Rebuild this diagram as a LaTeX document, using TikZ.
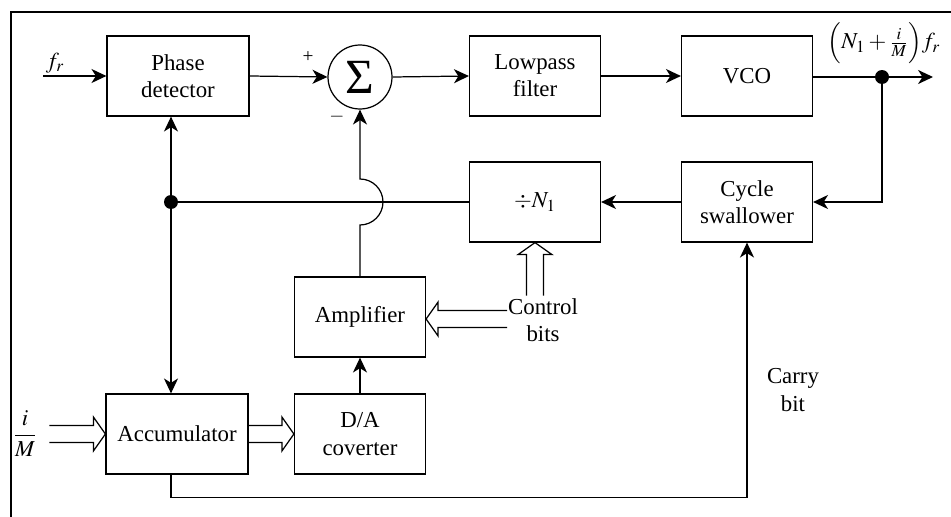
\documentclass[tikz,border=0pt]{standalone}
\usepackage{mathptmx}
\usepackage{fontspec}
\setmainfont{Liberation Serif}
\usetikzlibrary{arrows.meta,calc}

\tikzset{
  blk/.style={draw, align=center, minimum width=2.62cm, minimum height=1.6cm, inner sep=0pt},
  wideblk/.style={blk, minimum width=2.84cm},
  junction/.style={circle, fill, inner sep=0pt, minimum size=0.28cm},
  sign/.style={font=\fontsize{11}{11}\selectfont, inner sep=0pt},
  % hollow bus arrow pointing along +x, tip at the origin, tail #1 units back
  busarrow/.pic={
    \draw (-#1,-8.5) -- (-12,-8.5) -- (-12,-17) -- (0,0) -- (-12,17) -- (-12,8.5) -- (-#1,8.5);
  }
}

\begin{document}
\begin{tikzpicture}[x=0.02cm, y=-0.02cm, line width=0.7pt,
  font=\fontsize{13}{15.5}\selectfont,
  >={Stealth[length=8.5pt, width=8pt, inset=2.5pt]}]
\useasboundingbox (0,0) rectangle (951,517);

% frame
\draw[line width=0.9pt] (951,12) -- (11,12) -- (11,517);

% blocks
\node[wideblk] (pd)  at (178,76)  {Phase\\detector};
\node[draw, circle, minimum size=1.28cm, inner sep=0pt,
      font=\fontsize{28}{28}\selectfont] (sum) at (360,77) {Σ};
\node[blk] (lpf) at (535,76)  {Lowpass\\filter};
\node[blk] (vco) at (747,76)  {VCO};
\node[blk] (cs)  at (747,202) {Cycle\\swallower};
\node[blk] (div) at (535,202) {$\div N_1$};
\node[blk] (amp) at (360,317) {Amplifier};
\node[wideblk] (acc) at (177,434) {Accumulator};
\node[blk] (da)  at (360,434) {D/A\\coverter};
\node[align=center, inner sep=1pt] (ctrl)  at (543,320) {Control\\bits};
\node[align=center, inner sep=1pt] (carry) at (793,390) {Carry\\bit};

% signal labels
\node at (55,63) {$f_r$};
\node[inner sep=0pt] at (884,43) {$\Bigl(N_1+\frac{i}{M}\Bigr)f_r$};
\node at (25,434) {$\displaystyle\frac{i}{M}$};
\node[sign] at (308,57) {+};
\node[sign] at (337,117) {$-$};

% points
\coordinate (fin)  at (43,76);
\coordinate (tap)  at (882,77);
\coordinate (fout) at (933,77);
\coordinate (j)    at (171,202);

% forward path
\draw[->] (fin) -- (pd.west);
\draw[->] (pd.east) -- (sum.west);
\draw[->] (sum.east) -- (lpf.west);
\draw[->] (lpf.east) -- (vco.west);
\draw[->] (vco.east |- tap) -- (fout);

% feedback path
\draw[->] (tap) |- (cs.east);
\draw[->] (cs.west) -- (div.east);
\draw (div.west) -- (j);
\draw[->] (j) -- (j |- pd.south);
\draw[->] (j) -- (j |- acc.north);
\node[junction] at (tap) {};
\node[junction] at (j) {};

% carry bit
\draw[->] (j |- acc.south) -- ++(0,23) -| (cs.south);

% amplifier output, hopping over the feedback line
\coordinate (hop) at (amp.north |- j);
\draw[->] (amp.north) -- ($(hop)+(0,23)$) arc[start angle=90, end angle=-90, radius=23] -- (sum.south);
\draw[->] (da.north) -- (amp.south);

% buses
\pic at (acc.west) {busarrow=56};
\pic at (da.west) {busarrow=46};
\pic[rotate=90] at (div.south) {busarrow=53};
\pic[rotate=180] at ($(amp.east)+(0,2)$) {busarrow=81};
\end{tikzpicture}
\end{document}
